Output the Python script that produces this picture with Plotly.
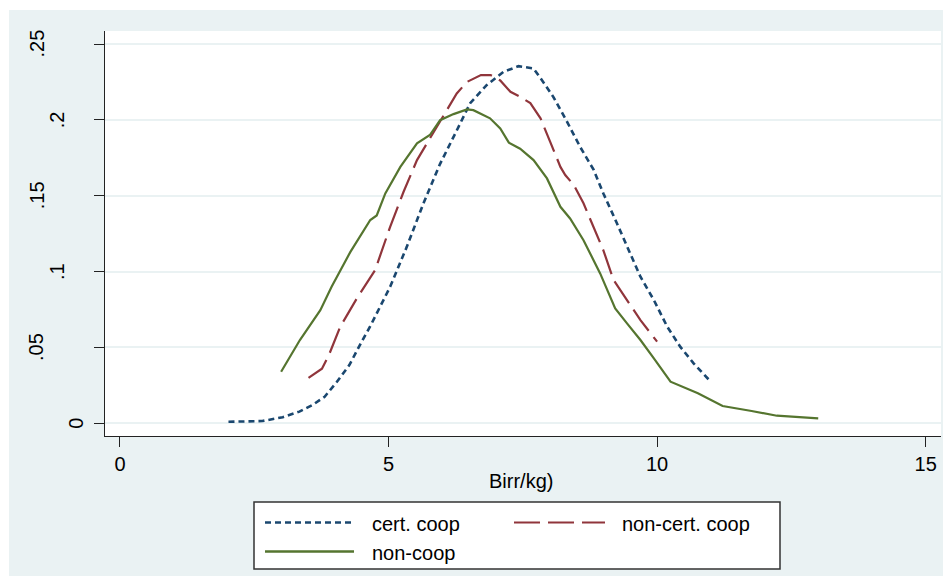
import plotly.graph_objects as go

# ---------------- data ----------------
cert_x = [2.02, 2.65, 3.03, 3.34, 3.58, 3.81, 4.04, 4.27, 4.50, 4.66, 5.03, 5.34, 5.65, 5.96,
          6.27, 6.52, 6.83, 7.14, 7.42, 7.70, 7.86, 8.07, 8.32, 8.57, 8.82, 9.00, 9.25, 9.50,
          9.69, 9.94, 10.19, 10.43, 10.68, 11.00]
cert_y = [0.001, 0.0015, 0.004, 0.0077, 0.012, 0.0175, 0.0274, 0.0384, 0.0538, 0.064, 0.090,
          0.1163, 0.145, 0.171, 0.193, 0.211, 0.223, 0.2316, 0.2354, 0.2339, 0.226, 0.215,
          0.199, 0.182, 0.167, 0.1515, 0.132, 0.112, 0.0966, 0.0812, 0.0636, 0.0505, 0.0395,
          0.0274]

noncert_x = [3.51, 3.76, 3.89, 4.10, 4.41, 4.75, 5.03, 5.28, 5.53, 5.77, 6.02, 6.27, 6.46,
             6.72, 6.90, 7.08, 7.27, 7.45, 7.64, 7.83, 8.01, 8.20, 8.29, 8.45, 8.63, 8.82,
             9.00, 9.19, 9.44, 9.69, 10.00]
noncert_y = [0.030, 0.036, 0.045, 0.0636, 0.0823, 0.101, 0.1295, 0.1526, 0.1735, 0.1878,
             0.203, 0.2174, 0.225, 0.2295, 0.2295, 0.226, 0.2185, 0.2152, 0.211, 0.201,
             0.1855, 0.169, 0.1636, 0.157, 0.145, 0.1295, 0.114, 0.0944, 0.0812, 0.068, 0.0538]

noncoop_x = [3.00, 3.35, 3.73, 3.94, 4.29, 4.66, 4.78, 4.94, 5.22, 5.53, 5.77, 5.96, 6.21,
             6.46, 6.58, 6.89, 7.08, 7.24, 7.45, 7.70, 7.95, 8.20, 8.38, 8.63, 8.94, 9.22,
             9.44, 9.69, 9.94, 10.25, 10.76, 11.22, 11.76, 12.23, 13.00]
noncoop_y = [0.034, 0.0549, 0.0746, 0.090, 0.113, 0.134, 0.137, 0.1515, 0.169, 0.1845, 0.190,
             0.1998, 0.2038, 0.2069, 0.2064, 0.201, 0.1943, 0.185, 0.181, 0.1735, 0.1614,
             0.1427, 0.135, 0.1207, 0.0988, 0.0757, 0.0659, 0.0549, 0.0428, 0.0274, 0.0198,
             0.0114, 0.0081, 0.005, 0.0033]

x_ticks = [0, 5, 10, 15]
y_ticks = [0, 0.05, 0.1, 0.15, 0.2, 0.25]
y_tick_labels = ["0", ".05", ".1", ".15", ".2", ".25"]
series_names = ["cert. coop", "non-cert. coop", "non-coop"]
x_title = "Birr/kg)"

# ---------------- styling ----------------
OFF = 8                      # page body margin of the html page
W, H = 951 - OFF, 576 - OFF
ML, MR, MT, MB = 97, 10, 23, 140
PW, PH = W - ML - MR, H - MT - MB
BG = "#EAF2F3"
C_BLUE, C_RED, C_GREEN = "#1a476f", "#90353b", "#55752f"
FONT = "Liberation Sans, Arial, sans-serif"
FS = 20


def px(xs):
    """screen x (window pixels) -> paper x"""
    return (xs - OFF - ML) / PW


def py(ys):
    """screen y (window pixels) -> paper y"""
    return (MT + PH - (ys - OFF)) / PH


fig = go.Figure()
fig.add_trace(go.Scatter(x=cert_x, y=cert_y, mode="lines", name=series_names[0],
                         line=dict(color=C_BLUE, width=2.6, dash="6px,4px")))
fig.add_trace(go.Scatter(x=noncert_x, y=noncert_y, mode="lines", name=series_names[1],
                         line=dict(color=C_RED, width=2.2, dash="26px,8px")))
fig.add_trace(go.Scatter(x=noncoop_x, y=noncoop_y, mode="lines", name=series_names[2],
                         line=dict(color=C_GREEN, width=2.2)))

shapes = []
annotations = []

# thin white outer strips (rest comes from the page margin)
shapes.append(dict(type="rect", xref="paper", yref="paper", x0=px(OFF), x1=px(9), y0=py(576), y1=py(OFF),
                   fillcolor="white", line=dict(width=0), layer="below"))
shapes.append(dict(type="rect", xref="paper", yref="paper", x0=px(OFF), x1=px(951), y0=py(10), y1=py(OFF),
                   fillcolor="white", line=dict(width=0), layer="below"))

# y tick labels (rotated, Stata style offsets)
for v, t in zip(y_ticks, y_tick_labels):
    cx = 76.5 - 20 * (len(t) - 1)
    annotations.append(dict(x=px(cx), xref="paper", y=v, yref="y", text=t, showarrow=False,
                            textangle=-90, xanchor="center", yanchor="middle",
                            font=dict(family=FONT, size=FS, color="black")))

# x axis title
annotations.append(dict(x=px(521), xref="paper", y=py(481), yref="paper", text=x_title,
                        showarrow=False, xanchor="center", yanchor="middle",
                        font=dict(family=FONT, size=FS, color="black")))

# legend box
shapes.append(dict(type="rect", xref="paper", yref="paper", x0=px(254), x1=px(780),
                   y0=py(569), y1=py(502), fillcolor="white", line=dict(color="#333333", width=1.5)))
legend_items = [
    (series_names[0], C_BLUE, 2.6, "6px,4px", 265, 354, 370, 522.5),
    (series_names[1], C_RED, 2.2, "26px,8px", 514, 605, 620, 522.5),
    (series_names[2], C_GREEN, 2.6, "solid", 265, 354, 370, 551.5),
]
for name, col, lw, dash, x0, x1, tx, yy in legend_items:
    shapes.append(dict(type="line", xref="paper", yref="paper", x0=px(x0), x1=px(x1),
                       y0=py(yy), y1=py(yy), line=dict(color=col, width=lw, dash=dash)))
    annotations.append(dict(x=px(tx), xref="paper", y=py(yy + 1.5), yref="paper", text=name,
                            showarrow=False, xanchor="left", yanchor="middle",
                            font=dict(family=FONT, size=FS, color="black")))

fig.update_layout(
    width=W, height=H,
    margin=dict(l=ML, r=MR, t=MT, b=MB, pad=0),
    paper_bgcolor=BG, plot_bgcolor="white",
    showlegend=False,
    font=dict(family=FONT, size=FS, color="black"),
    shapes=shapes, annotations=annotations,
    xaxis=dict(range=[-0.279, 15.286], tickvals=x_ticks, ticktext=[str(v) for v in x_ticks],
               showgrid=False, zeroline=False, showline=True, linecolor="#222222", linewidth=1.3,
               ticks="outside", ticklen=10, tickwidth=1, tickcolor="#222222",
               tickfont=dict(family=FONT, size=FS, color="black")),
    yaxis=dict(range=[-0.00837, 0.25857], tickvals=y_ticks, showticklabels=False,
               showgrid=True, gridcolor=BG, gridwidth=2, zeroline=False,
               showline=True, linecolor="#222222", linewidth=1.3,
               ticks="outside", ticklen=10, tickwidth=1, tickcolor="#222222"),
)

fig.write_html("out.html")
